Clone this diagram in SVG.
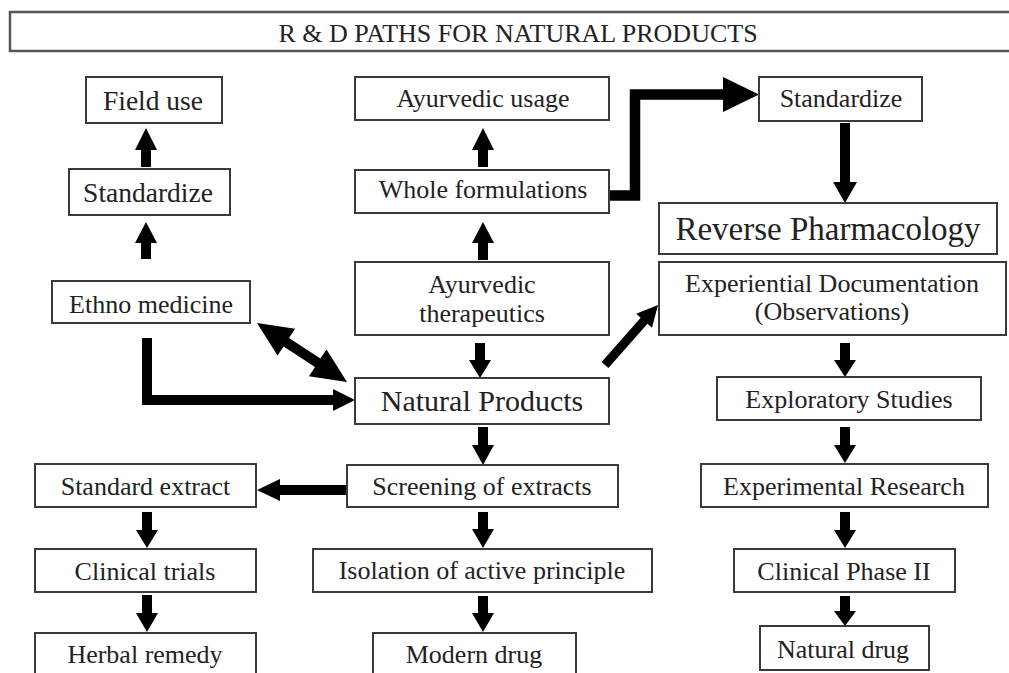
<svg xmlns="http://www.w3.org/2000/svg" width="1009" height="673" viewBox="0 0 1009 673">
<style>
.box{fill:#fff;stroke:#3a3a3a;stroke-width:2}
.t{font-family:"Liberation Serif","Times New Roman",serif;font-size:26px;fill:#222;text-anchor:middle}
.arr{fill:#000}
.ln{fill:none;stroke:#000;stroke-linejoin:miter;stroke-linecap:butt}
</style>
<rect width="1009" height="673" fill="#fff"/>
<g id="title"><rect class="box" x="10" y="12" width="1010" height="39" style="stroke:#555;stroke-width:2.5"/><text class="t" x="518" y="42">R &amp; D PATHS FOR NATURAL PRODUCTS</text></g>
<g id="connectors">
<path class="arr" d="M146,128 L157,150 L151,150 L151,167 L141,167 L141,150 L135,150 Z"/>
<path class="arr" d="M146,222 L157,243 L151,243 L151,259 L141,259 L141,243 L135,243 Z"/>
<path class="arr" d="M483,128 L494,150 L488,150 L488,167 L478,167 L478,150 L472,150 Z"/>
<path class="arr" d="M483,222 L494,243 L488,243 L488,260 L478,260 L478,243 L472,243 Z"/>
<path class="arr" d="M475,343 L485,343 L485,360 L491,360 L480,378 L469,360 L475,360 Z"/>
<path class="arr" d="M478,427 L488,427 L488,445 L494,445 L483,465 L472,445 L478,445 Z"/>
<path class="arr" d="M478,512 L488,512 L488,529 L494,529 L483,548 L472,529 L478,529 Z"/>
<path class="arr" d="M478,596 L488,596 L488,613 L494,613 L483,632 L472,613 L478,613 Z"/>
<path class="arr" d="M142,512 L152,512 L152,530 L158,530 L147,548 L136,530 L142,530 Z"/>
<path class="arr" d="M142,595 L152,595 L152,613 L158,613 L147,632 L136,613 L142,613 Z"/>
<path class="arr" d="M840,123 L850,123 L850,182 L857,182 L845,203 L833,182 L840,182 Z"/>
<path class="arr" d="M840,343 L850,343 L850,360 L856,360 L845,377 L834,360 L840,360 Z"/>
<path class="arr" d="M840,427 L850,427 L850,445 L856,445 L845,463 L834,445 L840,445 Z"/>
<path class="arr" d="M840,512 L850,512 L850,530 L856,530 L845,548 L834,530 L840,530 Z"/>
<path class="arr" d="M840,596 L850,596 L850,611 L856,611 L845,626 L834,611 L840,611 Z"/>
<path class="arr" d="M347,485 L280,485 L280,479 L257,490 L280,501 L280,495 L347,495 Z"/>
<polyline class="ln" points="147,338 147,400 334,400" stroke-width="10"/>
<polygon class="arr" points="333,389 355,400 333,411"/>
<polyline class="ln" points="609,195.5 635,195.5 635,94.5 725,94.5" stroke-width="10.5"/>
<polygon class="arr" points="723,77 759,94.5 723,112"/>
<polygon class="arr" points="257,323 295.1,328.8 289,338 320.4,358.6 326.5,349.4 347,382 308.9,376.2 315,367 283.6,346.4 277.5,355.6"/>
<polygon class="arr" points="601.6,362 640.7,317.8 636.2,313.8 658,305 652,327.7 647.5,323.7 608.4,368"/>
</g>
<g id="field-use"><rect class="box" x="86" y="77" width="136" height="46"/><text class="t" x="153" y="110" style="font-size:27.5px">Field use</text></g>
<g id="standardize-left"><rect class="box" x="69" y="169" width="161" height="46"/><text class="t" x="148" y="202" style="font-size:27.5px">Standardize</text></g>
<g id="ethno-medicine"><rect class="box" x="52" y="281" width="198" height="42"/><text class="t" x="151" y="313">Ethno medicine</text></g>
<g id="ayurvedic-usage"><rect class="box" x="355" y="77" width="254" height="43"/><text class="t" x="483" y="107">Ayurvedic usage</text></g>
<g id="whole-formulations"><rect class="box" x="355" y="170" width="254" height="43"/><text class="t" x="483" y="198">Whole formulations</text></g>
<g id="ayurvedic-therapeutics"><rect class="box" x="355" y="262" width="254" height="73"/><text class="t" x="482" y="293">Ayurvedic</text><text class="t" x="482" y="322">therapeutics</text></g>
<g id="standardize-right"><rect class="box" x="759" y="77" width="163" height="44"/><text class="t" x="841" y="107">Standardize</text></g>
<g id="reverse-pharmacology"><rect class="box" x="659" y="203" width="338" height="51"/><text class="t" x="828" y="240" style="font-size:33px">Reverse Pharmacology</text></g>
<g id="experiential-documentation"><rect class="box" x="659" y="262" width="347" height="73"/><text class="t" x="832" y="292">Experiential Documentation</text><text class="t" x="832" y="320">(Observations)</text></g>
<g id="natural-products"><rect class="box" x="355" y="378" width="254" height="46"/><text class="t" x="482" y="411" style="font-size:30px">Natural Products</text></g>
<g id="screening-of-extracts"><rect class="box" x="347" y="465" width="271" height="42"/><text class="t" x="482" y="495">Screening of extracts</text></g>
<g id="standard-extract"><rect class="box" x="35" y="464" width="221" height="43"/><text class="t" x="145.5" y="495">Standard extract</text></g>
<g id="clinical-trials"><rect class="box" x="35" y="549" width="221" height="43"/><text class="t" x="145" y="580">Clinical trials</text></g>
<g id="herbal-remedy"><rect class="box" x="35" y="633" width="221" height="50"/><text class="t" x="145" y="663">Herbal remedy</text></g>
<g id="isolation"><rect class="box" x="313" y="549" width="339" height="43"/><text class="t" x="482" y="579">Isolation of active principle</text></g>
<g id="modern-drug"><rect class="box" x="373" y="633" width="203" height="50"/><text class="t" x="474" y="663">Modern drug</text></g>
<g id="exploratory-studies"><rect class="box" x="717" y="377" width="264" height="43"/><text class="t" x="849" y="408">Exploratory Studies</text></g>
<g id="experimental-research"><rect class="box" x="701" y="464" width="287" height="43"/><text class="t" x="844" y="495">Experimental Research</text></g>
<g id="clinical-phase-ii"><rect class="box" x="734" y="549" width="221" height="43"/><text class="t" x="844" y="580">Clinical Phase II</text></g>
<g id="natural-drug"><rect class="box" x="760" y="626" width="169" height="44"/><text class="t" x="843" y="658">Natural drug</text></g>
</svg>
